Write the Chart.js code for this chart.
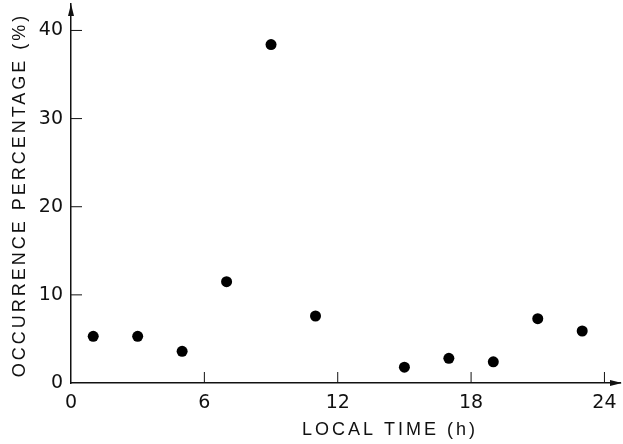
<!DOCTYPE html>
<html>
<head>
<meta charset="utf-8">
<script src="https://cdn.jsdelivr.net/npm/chart.js@4"></script>
<style>
  body { margin: 0; background: #fff; }
  #wrap { width: 623px; height: 444px; position: relative; }
</style>
</head>
<body>
<div id="wrap"><canvas id="grafico"></canvas></div>
<script>
const hours = [1, 3, 5, 7, 9, 11, 15, 17, 19, 21, 23]
const occurrence = [5.3, 5.3, 3.6, 11.5, 38.4, 7.6, 1.8, 2.8, 2.4, 7.3, 5.9]
const xTicks = [0, 6, 12, 18, 24]
const yTicks = [0, 10, 20, 30, 40]
const xTitle = 'LOCAL TIME (h)'
const yTitle = 'OCCURRENCE PERCENTAGE (%)'

const ink = '#111'

// inward ticks, arrow heads and the spaced-out axis titles
const desenhoEixos = {
  id: 'desenhoEixos',
  afterDraw(chart) {
    const ctx = chart.ctx
    const area = chart.chartArea
    const sx = chart.scales.x
    const sy = chart.scales.y
    ctx.save()
    ctx.strokeStyle = ink
    ctx.fillStyle = ink
    ctx.lineWidth = 1

    yTicks.forEach(v => {
      if (v === 0) return
      const y = sy.getPixelForValue(v)
      ctx.beginPath()
      ctx.moveTo(area.left, y)
      ctx.lineTo(area.left + 11, y)
      ctx.stroke()
    })
    xTicks.forEach(v => {
      if (v === 0) return
      const x = sx.getPixelForValue(v)
      ctx.beginPath()
      ctx.moveTo(x, area.bottom)
      ctx.lineTo(x, area.bottom - 11)
      ctx.stroke()
    })

    // arrows
    ctx.beginPath()
    ctx.moveTo(area.left, area.top)
    ctx.lineTo(area.left - 3, area.top + 12)
    ctx.lineTo(area.left + 3, area.top + 12)
    ctx.closePath()
    ctx.fill()
    ctx.beginPath()
    ctx.moveTo(area.right + 2, area.bottom)
    ctx.lineTo(area.right - 10, area.bottom - 3)
    ctx.lineTo(area.right - 10, area.bottom + 3)
    ctx.closePath()
    ctx.fill()

    // titles
    ctx.font = '18px "Liberation Sans"'
    ctx.textAlign = 'center'
    ctx.textBaseline = 'middle'
    ctx.letterSpacing = '3px'
    ctx.fillText(xTitle, 390, 430)
    ctx.translate(20, 195)
    ctx.rotate(-Math.PI / 2)
    ctx.fillText(yTitle, 0, 0)
    ctx.restore()
  }
}

new Chart(document.getElementById('grafico'), {
  type: 'scatter',
  data: {
    datasets: [{
      data: hours.map((h, i) => ({ x: h, y: occurrence[i] })),
      backgroundColor: '#000',
      borderWidth: 0,
      pointRadius: 5.5,
      pointHoverRadius: 5.5
    }]
  },
  options: {
    responsive: true,
    maintainAspectRatio: false,
    animation: false,
    layout: { autoPadding: false, padding: { top: 4, right: 3, left: 0, bottom: 0 } },
    plugins: { legend: { display: false }, tooltip: { enabled: false } },
    scales: {
      x: {
        type: 'linear',
        min: 0,
        max: 24.7,
        afterBuildTicks: s => { s.ticks = xTicks.map(v => ({ value: v })) },
        afterFit: s => { s.height = 61; s.paddingLeft = 0; s.paddingRight = 0 },
        grid: { display: false, drawTicks: false },
        border: { display: true, color: ink, width: 1.5 },
        ticks: {
          color: ink,
          padding: 9,
          maxRotation: 0,
          autoSkip: false,
          font: { family: 'DejaVu Sans', size: 19 }
        }
      },
      y: {
        min: 0,
        max: 43,
        afterBuildTicks: s => { s.ticks = yTicks.map(v => ({ value: v })) },
        afterFit: s => { s.width = 71; s.paddingTop = 0; s.paddingBottom = 0 },
        grid: { display: false, drawTicks: false },
        border: { display: true, color: ink, width: 1.5 },
        ticks: {
          color: ink,
          padding: 8,
          font: { family: 'DejaVu Sans', size: 19 }
        }
      }
    }
  },
  plugins: [desenhoEixos]
})
</script>
</body>
</html>
